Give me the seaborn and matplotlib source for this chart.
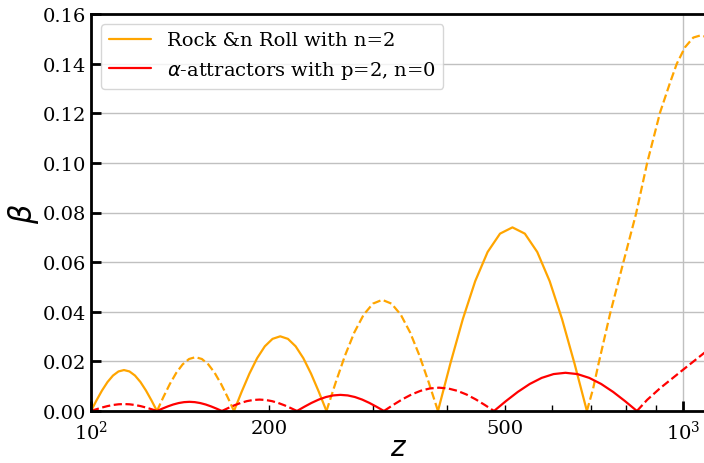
import matplotlib
matplotlib.use("Agg")
import matplotlib.pyplot as plt
import matplotlib.ticker as mticker
from matplotlib.lines import Line2D
import seaborn as sns

# signed beta (solid = positive, dashed = negative)
rock_z = [100, 102.16, 104.37, 106.63, 108.93, 111.28, 113.69, 116.15, 118.66, 121.22, 123.84, 126.52, 129.25,
          132.52, 135.87, 139.30, 142.82, 146.43, 150.13, 153.93, 157.82, 161.81, 165.90, 170.09, 174.4,
          179.71, 185.18, 190.81, 196.62, 202.60, 208.77, 215.12, 221.66, 228.41, 235.36, 242.52, 249.9,
          259.10, 268.64, 278.52, 288.77, 299.40, 310.42, 321.85, 333.69, 345.97, 358.71, 371.91, 385.6,
          404.67, 424.68, 445.69, 467.73, 490.86, 515.14, 540.62, 567.36, 595.42, 624.86, 655.77, 688.2,
          705, 720, 753, 793, 833, 870, 915, 950, 976, 1008, 1041, 1068, 1098]
rock_beta = [0, .00427, .00825, .01167, .01429, .01594, .0165, .01594, .01429, .01167, .00825, .00427, 0,
             -.00562, -.01085, -.01534, -.01879, -.02096, -.0217, -.02096, -.01879, -.01534, -.01085, -.00562, 0,
             .00779, .01505, .02128, .02607, .02907, .0301, .02907, .02607, .02128, .01505, .00779, 0,
             -.01159, -.0224, -.03168, -.0388, -.04327, -.0448, -.04327, -.0388, -.03168, -.0224, -.01159, 0,
             .01915, .037, .05233, .06408, .07148, .074, .07148, .06408, .05233, .037, .01915, 0,
             -.0090, -.0190, -.0391, -.0599, -.0794, -.1000, -.1204, -.1320, -.1399, -.1466, -.1505, -.1513,
             -.1508]

alpha_z = [100, 102.16, 104.37, 106.63, 108.93, 111.28, 113.69, 116.15, 118.66, 121.22, 123.84, 126.52, 129.25,
           132.0, 134.81, 137.68, 140.61, 143.60, 146.65, 149.77, 152.96, 156.21, 159.54, 162.93, 166.4,
           170.50, 174.69, 179.0, 183.40, 187.92, 192.55, 197.29, 202.14, 207.12, 212.22, 217.45, 222.8,
           229.17, 235.72, 242.46, 249.40, 256.53, 263.86, 271.41, 279.17, 287.15, 295.36, 303.81, 312.5,
           323.85, 335.62, 347.81, 360.44, 373.53, 387.10, 401.16, 415.73, 430.83, 446.48, 462.70, 479.5,
           502.24, 526.05, 551.0, 577.12, 604.49, 633.15, 663.17, 694.60, 727.54, 762.04, 798.17, 836.0,
           870, 915, 1000, 1098]
alpha_beta = [0, -.00072, -.0014, -.00198, -.00242, -.0027, -.0028, -.0027, -.00242, -.00198, -.0014, -.00072, 0,
              .00096, .00185, .00262, .0032, .00357, .0037, .00357, .0032, .00262, .00185, .00096, 0,
              -.00119, -.0023, -.00325, -.00398, -.00444, -.0046, -.00444, -.00398, -.00325, -.0023, -.00119, 0,
              .00168, .00325, .0046, .00563, .00628, .0065, .00628, .00563, .0046, .00325, .00168, 0,
              -.00243, -.0047, -.00665, -.00814, -.00908, -.0094, -.00908, -.00814, -.00665, -.0047, -.00243, 0,
              .00399, .0077, .01089, .01334, .01488, .0154, .01488, .01334, .01089, .0077, .00399, 0,
              -.0045, -.0092, -.0166, -.0243]

series = [
    ("Rock &n Roll with n=2", "orange", rock_z, rock_beta),
    (r"$\alpha$-attractors with p=2, n=0", "red", alpha_z, alpha_beta),
]


def split_by_sign(z, b):
    segs = []
    cz, cb = [z[0]], [b[0]]
    for zi, bi in zip(z[1:], b[1:]):
        cz.append(zi)
        cb.append(bi)
        if bi == 0:
            segs.append((cz, cb))
            cz, cb = [zi], [bi]
    if len(cz) > 1:
        segs.append((cz, cb))
    return segs


sns.set_theme(style="whitegrid")
plt.rcParams["font.family"] = ["DejaVu Serif"]
plt.rcParams["text.color"] = "black"
plt.rcParams["axes.labelcolor"] = "black"

fig = plt.figure(figsize=(7.04, 4.64), dpi=100)
ax = fig.add_axes([91 / 704, 52 / 464, 616 / 704, 397 / 464])

handles = []
for label, color, z, b in series:
    for sz, sb in split_by_sign(z, b):
        ls = "-" if sum(sb) > 0 else "--"
        sns.lineplot(x=sz, y=[abs(v) for v in sb], ax=ax, color=color,
                     linestyle=ls, linewidth=1.6, sort=False, legend=False)
    handles.append(Line2D([], [], color=color, linewidth=1.6, label=label))

ax.set_xscale("log")
ax.set_xlim(100, 1098)
ax.set_ylim(0, 0.16)
ax.set_yticks([0, 0.02, 0.04, 0.06, 0.08, 0.10, 0.12, 0.14, 0.16])
ax.yaxis.set_major_formatter(mticker.FormatStrFormatter("%.2f"))
ax.xaxis.set_minor_formatter(mticker.FuncFormatter(
    lambda v, p: f"{v:.0f}" if round(v) in (200, 500) else ""))

ax.grid(True, which="major", color="#c0c0c0", linewidth=1)
ax.grid(False, which="minor")
ax.tick_params(which="both", direction="in", labelsize=14, colors="black")
ax.tick_params(which="major", length=7, width=2)
ax.tick_params(which="minor", length=4, width=1)
ax.tick_params(axis="x", which="both", bottom=True, pad=6)
ax.tick_params(axis="y", left=True)

for s in ax.spines.values():
    s.set_color("black")
    s.set_linewidth(2)

ax.set_xlabel(r"$z$", fontsize=20, labelpad=-6)
ax.set_ylabel(r"$\beta$", fontsize=22, labelpad=1)

ax.legend(handles=handles, loc="upper left", fontsize=14, frameon=True,
          framealpha=0.8, edgecolor="#cccccc", handlelength=2.2)

fig.savefig("out.png", dpi=100)
